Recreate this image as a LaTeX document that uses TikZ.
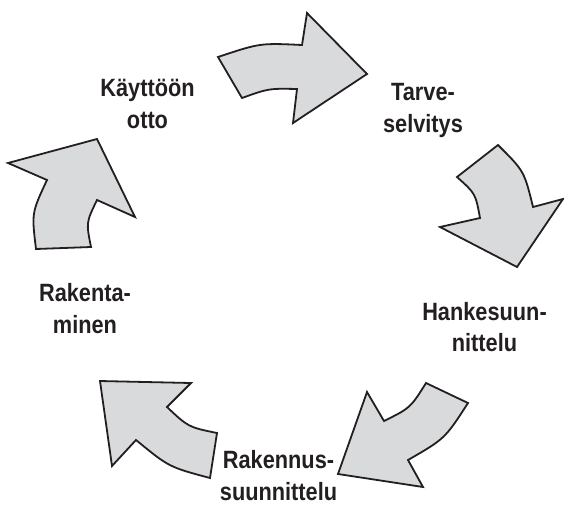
\documentclass[tikz,border=0pt]{standalone}
\usepackage{fontspec}
\setmainfont{Liberation Sans}[FakeStretch=0.87]
\definecolor{arrowfill}{RGB}{217,218,220}
\definecolor{arrowline}{RGB}{35,31,32}
\tikzset{
  blockarrow/.style={fill=arrowfill, draw=arrowline, line width=1.8pt, line join=miter},
  steplabel/.style={font=\fontsize{25}{31.5}\selectfont\bfseries, text=arrowline, align=center, inner sep=0pt, anchor=base}
}
\begin{document}
\begin{tikzpicture}[x=1pt,y=-1pt]
\useasboundingbox (0,0) rectangle (564,504);
% arrow 1 (top)
\draw[blockarrow] (218,57) .. controls (260,43) .. (302,45) -- (307,13) -- (367,74) -- (293,123) -- (297,89)
  .. controls (268.7,88.4) .. (242,98) -- cycle;
% arrow 2 (right)
\draw[blockarrow] (498,145) .. controls (524.2,171.1) .. (533,207) -- (563,199) -- (517,267) -- (440,227) -- (480,218)
  .. controls (475.5,193.6) .. (457,177) -- cycle;
% arrow 3 (bottom right)
\draw[blockarrow] (426,383) -- (468,403) .. controls (444.9,438.7) .. (408,460) -- (423,487) -- (338,474) -- (367,392) -- (384,421)
  .. controls (410.4,407.9) .. cycle;
% arrow 4 (bottom left)
\draw[blockarrow] (100,381) -- (191,383) -- (167,407) .. controls (188.3,427.1) .. (217,433) -- (210,478)
  .. controls (168.9,467) .. (136,440) -- (112,466) -- cycle;
% arrow 5 (left)
\draw[blockarrow] (8,163) -- (97,139) -- (135,217) -- (97,200) .. controls (86.1,222.5) .. (91,247) -- (36,249)
  .. controls (31.6,212.9) .. (47,180) -- cycle;
% labels
\node[steplabel] (l1) at (147.5,128) {Käyttöön\\otto};
\node[steplabel] (l2) at (423,132) {Tarve-\\selvitys};
\node[steplabel] (l3) at (484.5,351.7) {Hankesuun-\\nittelu};
\node[steplabel] (l4) at (85,333) {Rakenta-\\minen};
\node[steplabel] (l5) at (278.5,500) {Rakennus-\\suunnittelu};
\end{tikzpicture}
\end{document}
